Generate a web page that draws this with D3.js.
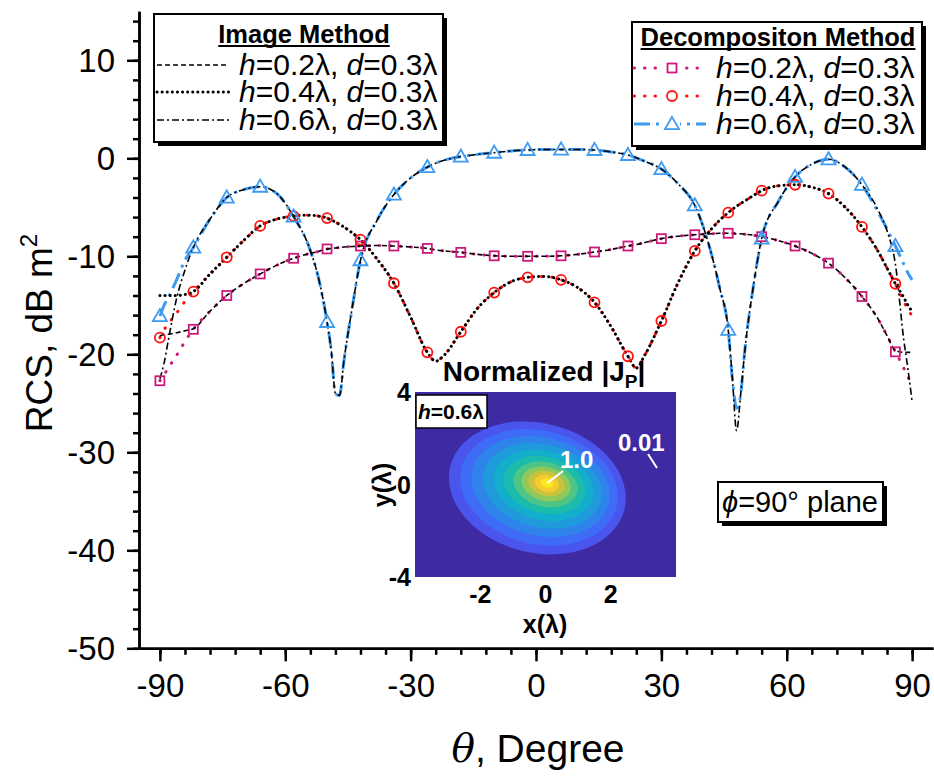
<!DOCTYPE html>
<html><head><meta charset="utf-8">
<script src="https://cdn.jsdelivr.net/npm/d3@7"></script>
<style>body{margin:0;background:#fff}svg{display:block;font-family:"Liberation Sans",Arial,sans-serif}</style>
</head><body><svg id="c" width="934" height="776"></svg>
<script>
// ---------- DATA ----------
const theta = [-90,-89,-88,-86,-84,-82,-78,-74,-70,-66,
 -62,-58,-54,-52,-50,-49,-48,-47,-46,-44,
 -42,-38,-34,-30,-26,-24,-22,-18,-14,-10,
 -6,-2,2,6,10,14,18,22,24,26,
 30,34,38,42,44,46,47,48,49,50,
 52,54,58,62,66,70,74,78,82,84,
 86,88,89,90];

const imgH02 = [-18.1,-18.0,-17.95,-17.8,-17.6,-17.4,-15.6,-14.0,-12.8,-11.8,
 -10.9,-10.2,-9.7,-9.5,-9.25,-9.2,-9.15,-9.1,-9.05,-9.0,
 -8.95,-8.9,-8.95,-9.05,-9.2,-9.35,-9.45,-9.6,-9.8,-9.95,
 -10.0,-10.0,-10.0,-9.95,-9.8,-9.56,-9.3,-8.95,-8.8,-8.6,
 -8.2,-7.95,-7.8,-7.7,-7.65,-7.65,-7.65,-7.7,-7.7,-7.75,
 -7.85,-8.0,-8.4,-8.95,-9.7,-10.7,-12.2,-14.1,-16.5,-18.1,
 -19.6,-19.8,-19.8,-19.8];
const decH02 = [-22.7,-22.1,-21.4,-20.1,-18.7,-17.45,-15.6,-14.0,-12.8,-11.8,
 -10.9,-10.2,-9.7,-9.5,-9.25,-9.2,-9.15,-9.1,-9.05,-9.0,
 -8.95,-8.9,-8.95,-9.05,-9.2,-9.35,-9.45,-9.6,-9.8,-9.95,
 -10.0,-10.0,-10.0,-9.95,-9.8,-9.56,-9.3,-8.95,-8.8,-8.6,
 -8.2,-7.95,-7.8,-7.7,-7.65,-7.65,-7.65,-7.7,-7.7,-7.75,
 -7.85,-8.0,-8.4,-8.95,-9.7,-10.7,-12.2,-14.1,-16.5,-18.1,
 -19.75,-21.4,-22.3,-23.1];

const imgH04 = [-14.0,-14.0,-14.0,-14.0,-13.9,-13.6,-11.8,-10.1,-8.4,-6.9,
 -6.2,-5.9,-5.8,-5.9,-6.1,-6.3,-6.5,-6.75,-7.0,-7.6,
 -8.3,-10.3,-12.75,-16.2,-19.8,-20.7,-20.1,-17.7,-15.3,-13.7,
 -12.6,-12.15,-12.05,-12.4,-13.2,-14.7,-17.2,-20.2,-21.4,-20.1,
 -16.6,-12.7,-9.45,-7.2,-6.3,-5.55,-5.2,-4.9,-4.6,-4.35,
 -3.8,-3.3,-2.8,-2.7,-2.95,-3.6,-5.0,-7.0,-9.6,-11.2,
 -12.8,-14.2,-15.0,-15.6];
const decH04 = [-18.3,-17.5,-16.9,-15.8,-14.6,-13.6,-11.8,-10.1,-8.4,-6.9,
 -6.2,-5.9,-5.8,-5.9,-6.1,-6.3,-6.5,-6.75,-7.0,-7.6,
 -8.3,-10.3,-12.75,-16.2,-19.8,-20.7,-20.1,-17.7,-15.3,-13.7,
 -12.6,-12.15,-12.05,-12.4,-13.2,-14.7,-17.2,-20.2,-21.4,-20.1,
 -16.6,-12.7,-9.45,-7.2,-6.3,-5.55,-5.2,-4.9,-4.6,-4.35,
 -3.8,-3.3,-2.8,-2.7,-2.95,-3.6,-5.0,-7.0,-9.6,-11.2,
 -12.8,-14.6,-15.4,-16.1];

const imgH06 = [-22.5,-20.9,-18.6,-14.3,-11.4,-9.1,-6.2,-4.0,-3.2,-2.9,
 -3.6,-5.95,-9.4,-12.3,-16.7,-19.6,-24.0,-24.2,-20.8,-15.3,
 -10.4,-6.3,-3.7,-2.0,-0.9,-0.5,-0.2,0.17,0.4,0.57,
 0.75,0.85,0.9,0.9,0.9,0.85,0.65,0.34,0.05,-0.3,
 -1.1,-2.6,-4.8,-9.8,-13.3,-17.5,-22.5,-27.8,-24.0,-19.5,
 -13.1,-8.2,-4.4,-1.9,-0.6,-0.1,-0.9,-2.7,-5.4,-7.4,
 -10.8,-18.5,-21.5,-24.8];
const decH06 = [-16.1,-15.0,-14.2,-12.4,-10.4,-9.1,-6.2,-4.0,-3.2,-2.9,
 -3.6,-5.95,-9.4,-12.3,-16.7,-19.6,-24.0,-24.2,-20.8,-15.3,
 -10.4,-6.3,-3.7,-2.0,-0.9,-0.5,-0.2,0.17,0.4,0.57,
 0.75,0.85,0.9,0.9,0.9,0.85,0.65,0.34,0.05,-0.3,
 -1.1,-2.6,-4.8,-9.8,-13.3,-17.5,-22.5,-25.5,-24.0,-19.5,
 -13.1,-8.2,-4.4,-1.9,-0.6,-0.1,-0.9,-2.7,-5.6,-7.2,
 -8.95,-10.8,-11.7,-12.4];

const markerTheta = [-90,-82,-74,-66,-58,-50,-42,-34,-26,-18,-10,-2,6,14,22,30,38,46,54,62,70,78,86];

const yTicks = [-50,-40,-30,-20,-10,0,10];
const xTicks = [-90,-60,-30,0,30,60,90];
const hLabels = ["0.2","0.4","0.6"];
const dLabel = "0.3";

// inset (normalized |Jp|) bands, in lambda units: [cx, cy, rx, ry]
const insetX = [-2,0,2];
const insetY = [-4,0,4];
const bandCx = [-0.25,-0.2,-0.15,-0.1,-0.06,-0.03,0,0.02,0.03,0.04,0.05];
const bandCy = [-0.15,-0.12,-0.09,-0.06,-0.04,-0.02,0,0.02,0.04,0.05,0.06];
const bandRx = [2.75,2.45,2.15,1.85,1.55,1.27,1.0,0.77,0.57,0.38,0.2];
const bandRy = [2.8,2.45,2.12,1.8,1.5,1.22,0.96,0.73,0.53,0.36,0.19];
const bandColor = ["#4a55ee","#3f6cf6","#2f84ec","#1f9bdb","#12aecb","#1bbcab","#4ec486","#8fc85b","#cdc23d","#f5cc2e","#f8ea1f"];

// ---------- DRAW ----------
const svg = d3.select("#c");
const x = d3.scaleLinear().domain([-95,95]).range([139,933]);
const y = d3.scaleLinear().domain([-50,15]).range([648.3,11.3]);

const cMag = "#cc1a7a", cRed = "#ff1010", cBlue = "#3d9bf0";

function styleAxis(g){
  g.select(".domain").attr("stroke","#000").attr("stroke-width",2.5);
  g.selectAll(".tick line").attr("stroke","#000").attr("stroke-width",2.5);
}
// y axis
svg.append("g").attr("transform","translate(139,0)")
  .call(d3.axisLeft(y).tickValues(d3.range(-50,15,2)).tickSize(6).tickFormat("").tickSizeOuter(0)).call(styleAxis);
svg.append("g").attr("transform","translate(139,0)")
  .call(d3.axisLeft(y).tickValues(yTicks).tickSize(12).tickPadding(12).tickFormat(d=>String(d)).tickSizeOuter(0))
  .call(styleAxis)
  .call(g=>g.selectAll("text").attr("font-size",33).attr("font-family","Liberation Sans, Arial").attr("fill","#000").attr("dy","0.35em"));
// x axis
svg.append("g").attr("transform","translate(0,648.3)")
  .call(d3.axisBottom(x).tickValues(d3.range(-90,91,6)).tickSize(6.5).tickFormat("").tickSizeOuter(0)).call(styleAxis);
svg.append("g").attr("transform","translate(0,648.3)")
  .call(d3.axisBottom(x).tickValues(xTicks).tickSize(13).tickPadding(12).tickFormat(d=>String(d)).tickSizeOuter(0))
  .call(styleAxis)
  .call(g=>g.selectAll("text").attr("font-size",33).attr("font-family","Liberation Sans, Arial").attr("fill","#000"));

// axis titles
const xt = svg.append("text").attr("x",538).attr("y",762).attr("text-anchor","middle").attr("font-size",39);
xt.append("tspan").attr("font-style","italic").attr("font-family","DejaVu Serif, serif").text("θ");
xt.append("tspan").text(", Degree");
const yt = svg.append("text").attr("transform","translate(52,333) rotate(-90)").attr("text-anchor","middle").attr("font-size",37);
yt.append("tspan").text("RCS, dB m");
yt.append("tspan").attr("font-size",24).attr("dy",-15).text("2");

// series
const line = d3.line().x(d=>x(d[0])).y(d=>y(d[1])).curve(d3.curveMonotoneX);
const pts = arr => theta.map((t,i)=>[t,arr[i]]);

const decStyles = [
  {data:decH02, color:cMag, width:3, dash:"0.5,10", cap:"round"},
  {data:decH04, color:cRed, width:3, dash:"0.5,10", cap:"round"},
  {data:decH06, color:cBlue, width:3, dash:"16,6,3,6", cap:"butt"}
];
const imgStyles = [
  {data:imgH02, color:"#000", width:1.6, dash:"5,3", cap:"butt"},
  {data:imgH04, color:"#000", width:3, dash:"0.1,5", cap:"round"},
  {data:imgH06, color:"#000", width:1.6, dash:"7,3,2,3", cap:"butt"}
];
const plot = svg.append("g");
decStyles.forEach(s=>{
  plot.append("path").attr("d",line(pts(s.data))).attr("fill","none").attr("stroke",s.color)
    .attr("stroke-width",s.width).attr("stroke-dasharray",s.dash).attr("stroke-linecap",s.cap);
});
imgStyles.forEach(s=>{
  plot.append("path").attr("d",line(pts(s.data))).attr("fill","none").attr("stroke",s.color)
    .attr("stroke-width",s.width).attr("stroke-dasharray",s.dash).attr("stroke-linecap",s.cap);
});

function marker(g, kind, cx, cy, color){
  if(kind==="square") g.append("rect").attr("x",cx-4.5).attr("y",cy-4.5).attr("width",9).attr("height",9)
      .attr("fill","none").attr("stroke",color).attr("stroke-width",1.8);
  else if(kind==="circle") g.append("circle").attr("cx",cx).attr("cy",cy).attr("r",5)
      .attr("fill","none").attr("stroke",color).attr("stroke-width",1.8);
  else g.append("path").attr("d",d3.symbol(d3.symbolTriangle).size(85)()).attr("transform",`translate(${cx},${cy+1})`)
      .attr("fill","none").attr("stroke",color).attr("stroke-width",1.8);
}
const kinds = ["square","circle","triangle"];
decStyles.forEach((s,k)=>{
  markerTheta.forEach(t=>{
    const i = theta.indexOf(t);
    marker(plot, kinds[k], x(t), y(s.data[i]), s.color);
  });
});

// ---------- INSET ----------
const ix = d3.scaleLinear().domain([-4,4]).range([415,676]);
const iy = d3.scaleLinear().domain([-4,4]).range([577,392]);
const defs = svg.append("defs");
defs.append("clipPath").attr("id","ic").append("rect").attr("x",415).attr("y",392).attr("width",261).attr("height",185);
const ig = svg.append("g");
ig.append("rect").attr("x",415).attr("y",392).attr("width",261).attr("height",185).attr("fill","#3e2ba4");
const bands = ig.append("g").attr("clip-path","url(#ic)");
bandCx.forEach((c,i)=>{
  const cx = ix(c), cy = iy(bandCy[i]);
  bands.append("ellipse").attr("cx",0).attr("cy",0)
    .attr("rx",ix(bandRx[i])-ix(0)).attr("ry",iy(0)-iy(bandRy[i]))
    .attr("transform",`translate(${cx},${cy}) rotate(14)`)
    .attr("fill",bandColor[i]);
});
// inset title
const it = ig.append("text").attr("x",544).attr("y",381).attr("text-anchor","middle").attr("font-size",28).attr("font-weight","bold");
it.append("tspan").text("Normalized |J");
it.append("tspan").attr("font-size",19).attr("dy",7).text("P");
it.append("tspan").attr("dy",-7).text("|");
// inset ticks
insetY.forEach(v=>{
  ig.append("text").attr("x",411).attr("y",iy(v)).attr("dy","0.36em").attr("text-anchor","end")
    .attr("font-size",25).attr("font-weight","bold").text(String(v));
});
insetX.forEach(v=>{
  ig.append("text").attr("x",ix(v)).attr("y",603).attr("text-anchor","middle")
    .attr("font-size",25).attr("font-weight","bold").text(String(v));
});
ig.append("text").attr("x",545).attr("y",633).attr("text-anchor","middle").attr("font-size",25).attr("font-weight","bold").text("x(λ)");
ig.append("text").attr("transform","translate(391,485) rotate(-90)").attr("text-anchor","middle").attr("font-size",25).attr("font-weight","bold").text("y(λ)");
// h box
ig.append("rect").attr("x",416).attr("y",395).attr("width",71).attr("height",33).attr("fill","#fff").attr("stroke","#000").attr("stroke-width",1.5);
const hb = ig.append("text").attr("x",451).attr("y",419).attr("text-anchor","middle").attr("font-size",21).attr("font-weight","bold");
hb.append("tspan").attr("font-style","italic").text("h");
hb.append("tspan").text("=0.6λ");
// annotations
ig.append("line").attr("x1",ix(0.05)).attr("y1",iy(0.06)).attr("x2",563).attr("y2",471).attr("stroke","#fff").attr("stroke-width",2);
ig.append("text").attr("x",560).attr("y",468).attr("fill","#fff").attr("font-size",24).attr("font-weight","bold").text("1.0");
ig.append("line").attr("x1",648).attr("y1",454).attr("x2",657).attr("y2",468).attr("stroke","#fff").attr("stroke-width",2);
ig.append("text").attr("x",618).attr("y",451).attr("fill","#fff").attr("font-size",24).attr("font-weight","bold").text("0.01");

// ---------- LEGENDS ----------
function box(x0,y0,w,h){
  svg.append("rect").attr("x",x0+4).attr("y",y0+4).attr("width",w).attr("height",h).attr("fill","#000");
  svg.append("rect").attr("x",x0).attr("y",y0).attr("width",w).attr("height",h).attr("fill","#fff").attr("stroke","#000").attr("stroke-width",2);
}
function title(cx, by, str){
  const t = svg.append("text").attr("x",cx).attr("y",by).attr("text-anchor","middle").attr("font-size",25.5).attr("font-weight","bold").text(str);
  const w = t.node().getComputedTextLength();
  svg.append("line").attr("x1",cx-w/2).attr("x2",cx+w/2).attr("y1",by+3).attr("y2",by+3).attr("stroke","#000").attr("stroke-width",2);
}
function entry(tx, cy, hv){
  const t = svg.append("text").attr("x",tx).attr("y",cy+10).attr("font-size",30);
  t.append("tspan").attr("font-style","italic").text("h");
  t.append("tspan").text("="+hv+"λ, ");
  t.append("tspan").attr("font-style","italic").text("d");
  t.append("tspan").text("="+dLabel+"λ");
}
box(154,14,289,128);
title(304,43,"Image Method");
const lRows = [65,92,120];
imgStyles.forEach((s,k)=>{
  svg.append("line").attr("x1",157).attr("x2",229).attr("y1",lRows[k]).attr("y2",lRows[k])
    .attr("stroke",s.color).attr("stroke-width",s.width).attr("stroke-dasharray",s.dash).attr("stroke-linecap",s.cap);
  entry(239, lRows[k], hLabels[k]);
});
box(632,22,290,124);
title(778,46,"Decompositon Method");
const rRows = [68,96,124];
decStyles.forEach((s,k)=>{
  svg.append("line").attr("x1",634).attr("x2",706).attr("y1",rRows[k]).attr("y2",rRows[k])
    .attr("stroke",s.color).attr("stroke-width",s.width).attr("stroke-dasharray",s.dash).attr("stroke-linecap",s.cap);
  const g = svg.append("g");
  g.append("rect").attr("x",664).attr("y",rRows[k]-8).attr("width",16).attr("height",16).attr("fill","#fff");
  marker(g, kinds[k], 672, rRows[k], s.color);
  entry(716, rRows[k], hLabels[k]);
});

// phi box
box(718,482,165,40);
const pt = svg.append("text").attr("x",800).attr("y",512).attr("text-anchor","middle").attr("font-size",29);
pt.append("tspan").attr("font-style","italic").text("ϕ");
pt.append("tspan").text("=90° plane");
</script></body></html>
